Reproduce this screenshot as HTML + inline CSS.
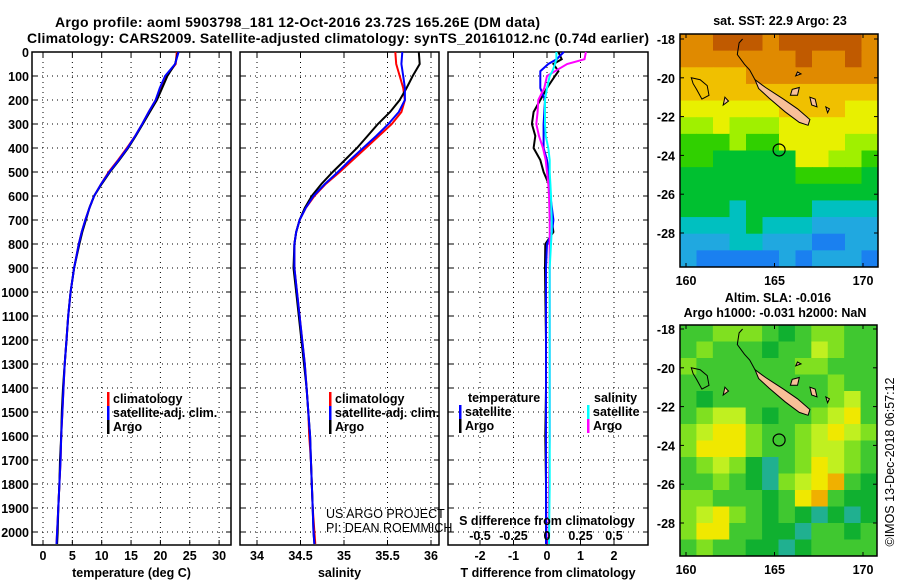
<!DOCTYPE html>
<html><head><meta charset="utf-8"><style>
html,body{margin:0;padding:0;background:#fff;}
svg{display:block;font-family:"Liberation Sans",sans-serif;}
.b{font-weight:bold;font-size:12.5px;}
</style></head><body>
<svg id="fig" width="900" height="580" viewBox="0 0 900 580" xmlns="http://www.w3.org/2000/svg">
<rect width="900" height="580" fill="#fff"/>
<text x="55" y="27" font-size="14" font-weight="bold" textLength="485">Argo profile: aoml 5903798_181 12-Oct-2016 23.72S 165.26E (DM data)</text>
<text x="27" y="43" font-size="14" font-weight="bold" textLength="622">Climatology: CARS2009. Satellite-adjusted climatology: synTS_20161012.nc (0.74d earlier)</text>
<g id="plots"></g>
</svg>
<script>
// ---------- profile data ----------
const depths=[0,50,100,150,200,250,300,350,400,450,500,550,600,650,700,750,800,900,1000,1100,1200,1300,1400,1500,1600,1700,1800,1900,2000,2050];
const tempArgo=[23.0,22.5,21.2,20.3,19.4,18.2,17.0,15.8,14.5,13.0,11.4,10.0,8.7,7.9,7.3,6.7,6.2,5.3,4.7,4.3,4.0,3.7,3.4,3.2,3.1,2.9,2.8,2.6,2.5,2.4];
const tempClim=[22.8,22.6,21.0,20.0,19.2,18.0,16.9,15.7,14.3,12.8,11.2,9.9,8.7,7.9,7.2,6.6,6.1,5.3,4.7,4.3,4.0,3.7,3.5,3.3,3.1,3.0,2.8,2.6,2.4,2.3];
const tempSat=[23.1,22.5,20.8,19.9,19.2,18.0,16.9,15.7,14.4,12.9,11.3,9.9,8.7,7.9,7.2,6.6,6.1,5.3,4.7,4.3,4.0,3.7,3.5,3.3,3.1,3.0,2.8,2.6,2.4,2.3];
const salArgo=[35.86,35.87,35.79,35.72,35.64,35.53,35.39,35.27,35.15,35.01,34.87,34.74,34.63,34.55,34.49,34.45,34.43,34.42,34.45,34.48,34.51,34.54,34.57,34.59,34.61,34.62,34.63,34.64,34.65,34.66];
const salClim=[35.59,35.60,35.64,35.68,35.70,35.66,35.55,35.40,35.25,35.10,34.95,34.79,34.66,34.56,34.49,34.45,34.43,34.43,34.46,34.49,34.52,34.55,34.57,34.59,34.60,34.62,34.63,34.64,34.66,34.67];
const salSat=[35.67,35.66,35.68,35.70,35.70,35.63,35.51,35.37,35.22,35.07,34.93,34.78,34.65,34.56,34.49,34.45,34.43,34.43,34.46,34.49,34.52,34.55,34.57,34.59,34.61,34.62,34.63,34.64,34.65,34.66];
const diffDepths=[0,30,50,80,100,150,200,250,300,350,400,450,500,550,600,700,750,800,900,1000,1200,1400,1600,1800,2050];
const dTArgo=[0.34,0.44,0.19,0.34,0.24,0,-0.2,-0.4,-0.45,-0.35,-0.4,-0.2,-0.1,0.05,0.1,0.14,0.19,-0.05,-0.06,-0.05,-0.03,-0.03,-0.05,-0.03,-0.03];
const dTSat=[0.5,0.29,0.04,-0.2,-0.2,-0.2,-0.06,-0.08,-0.1,-0.1,-0.1,0,0.05,0.09,0.1,0.19,0.15,0,-0.03,-0.03,-0.03,-0.03,-0.03,-0.03,-0.03];
const dSArgo=[0.29,0.28,0.15,0.06,0,-0.02,-0.065,-0.07,-0.08,-0.06,-0.03,-0.01,0,0.01,0.015,0.02,0.02,0.02,0.02,0.02,0.02,0.02,0.02,0.015,0.01];
const dSSat=[0.07,0.07,0.06,0.04,0.02,0,-0.015,-0.015,-0.015,-0.01,0.01,0.02,0.02,0.025,0.03,0.035,0.035,0.03,0.02,0.02,0.02,0.02,0.02,0.02,0.015];
const depthTicks=[0,100,200,300,400,500,600,700,800,900,1000,1100,1200,1300,1400,1500,1600,1700,1800,1900,2000];
const tempTicks=[0,5,10,15,20,25,30];
const salTicks=[34,34.5,35,35.5,36];
const salTickLabels=["34","34.5","35","35.5","36"];
const dTTicks=[-2,-1,0,1,2];
const dSTicks=[-0.5,-0.25,0,0.25,0.5];
const dSTickLabels=["-0.5","-0.25","0","0.25","0.5"];
// ---------- map data ----------
const sstRows=["889998999998","888888898898","777788888888","777777777777","666666777766","556555666666","444544666655","443333366554","333333344443","333333333333","333233332222","222232221111","111221110011","100000101110"];
const sstColors=["#1a80f0","#20a8e0","#00c0c0","#00c030","#30d000","#a0f000","#e8f000","#f0c000","#e08a00","#c05a00"];
const slaRows=["223332123322","232221224322","322222233222","222222222322","212222222342","234421223452","345532234543","355532234432","234310235432","223210345621","332221256211","345321210101","355221102212","232211012222"];
const slaColors=["#20b090","#10b030","#40c830","#80e020","#c0f020","#f0e800","#f0b000"];
const mapLonTicks=[160,165,170];
const mapLatTicks=[-18,-20,-22,-24,-26,-28];
const island=[[163.9,-20.1],[164.5,-20.5],[165.5,-21.1],[166.3,-21.6],[167.0,-22.15],[166.9,-22.45],[166.4,-22.3],[165.6,-21.75],[164.7,-21.05],[164.1,-20.55]];
const reef=[[163.2,-18.0],[163.0,-18.2],[162.9,-18.8],[163.3,-19.3],[163.6,-19.6],[163.9,-20.1]];
const chesterfield=[[160.3,-20.0],[160.8,-20.1],[161.2,-20.4],[161.3,-20.9],[160.9,-21.1],[160.6,-20.6],[160.4,-20.3]];
const loyalty=[[[166.0,-20.6],[166.4,-20.5],[166.3,-20.9],[165.9,-20.9]],[[167.0,-21.0],[167.3,-21.1],[167.4,-21.5],[167.1,-21.4]],[[167.9,-21.5],[168.1,-21.6],[168.0,-21.8]],[[166.3,-19.7],[166.5,-19.8],[166.2,-19.9]],[[162.2,-21.0],[162.4,-21.2],[162.1,-21.4]]];
const argoPos=[165.26,-23.72];

const NS="http://www.w3.org/2000/svg";
const root=document.getElementById('plots');
function el(tag,attrs,parent){const e=document.createElementNS(NS,tag);for(const k in attrs)e.setAttribute(k,attrs[k]);(parent||root).appendChild(e);return e;}
function txt(x,y,s,attrs,parent){const t=el('text',Object.assign({x:x,y:y},attrs||{}),parent);t.textContent=s;return t;}

const top0=52,bot=545;
function yD(d){return top0+d*0.24;}

function panel(name,x0,x1,xScale,xTicks,xLabels,xTitle,showY){
  const g=el('g',{});
  
  
  xTicks.forEach(v=>{const x=xScale(v);el('line',{x1:x,x2:x,y1:top0,y2:bot,stroke:'#000','stroke-width':1,'stroke-dasharray':'1,4'},g);
    el('line',{x1:x,x2:x,y1:bot,y2:bot-5,stroke:'#000'},g);el('line',{x1:x,x2:x,y1:top0,y2:top0+5,stroke:'#000'},g);});
  depthTicks.forEach(d=>{const y=yD(d);el('line',{x1:x0,x2:x1,y1:y,y2:y,stroke:'#000','stroke-width':1,'stroke-dasharray':'1,4'},g);
    el('line',{x1:x0,x2:x0+5,y1:y,y2:y,stroke:'#000'},g);el('line',{x1:x1,x2:x1-5,y1:y,y2:y,stroke:'#000'},g);
    if(showY){const t=txt(29,y+5,String(d),{'text-anchor':'end','class':'b'},g);}});
  xTicks.forEach((v,i)=>{const t=txt(xScale(v),560,xLabels[i],{'text-anchor':'middle','class':'b'},g);});
  const tt=txt((x0+x1)/2,577,xTitle,{'text-anchor':'middle','class':'b'},g);
  
  el('rect',{x:x0,y:top0,width:x1-x0,height:bot-top0,fill:'none',stroke:'#000','stroke-width':1.5},g);
  return g;
}
function line(g,xs,ds,xScale,color,name){
  const pts=xs.map((v,i)=>xScale(v).toFixed(1)+','+yD(ds[i]).toFixed(1)).join(' ');
  const p=el('polyline',{points:pts,fill:'none',stroke:color,'stroke-width':2},g);
  
}
function legendMark(g,x,y,color,label,name){
  el('rect',{x:x,y:y-11,width:2.5,height:14,fill:color},g);
  const t=txt(x+6,y,label,{'class':'b'},g);
  
}

// temperature panel
const xT=v=>43+v*5.87;
const gT=panel('temperature-panel',32,231,xT,tempTicks,tempTicks.map(String),'temperature (deg C)',true);
line(gT,tempClim,depths,xT,'#f00','temp-climatology-line');
line(gT,tempArgo,depths,xT,'#000','temp-argo-line');
line(gT,tempSat,depths,xT,'#00f','temp-satellite-line');
legendMark(gT,107,403,'#f00','climatology','legend-climatology');
legendMark(gT,107,417,'#00f','satellite-adj. clim.','legend-satellite');
legendMark(gT,107,431,'#000','Argo','legend-argo');

// salinity panel
const xS=v=>257+(v-34)*87;
const gS=panel('salinity-panel',240,439,xS,salTicks,salTickLabels,'salinity',false);
line(gS,salClim,depths,xS,'#f00','sal-climatology-line');
line(gS,salArgo,depths,xS,'#000','sal-argo-line');
line(gS,salSat,depths,xS,'#00f','sal-satellite-line');
legendMark(gS,329,403,'#f00','climatology','legend-climatology-sal');
legendMark(gS,329,417,'#00f','satellite-adj. clim.','legend-satellite-sal');
legendMark(gS,329,431,'#000','Argo','legend-argo-sal');
const c1=txt(326,518,'US ARGO PROJECT',{'font-size':12.5},gS);
const c2=txt(326,532,'PI: DEAN ROEMMICH',{'font-size':12.5},gS);

// difference panel
const xDT=v=>547+v*33.5;
const xDS=v=>547+v*134;
const gD=panel('difference-panel',448,648,xDT,dTTicks,dTTicks.map(String),'T difference from climatology',false);
line(gD,dTArgo,diffDepths,xDT,'#000','dT-argo-line');
line(gD,dTSat,diffDepths,xDT,'#00f','dT-satellite-line');
line(gD,dSArgo,diffDepths,xDS,'#f0f','dS-argo-line');
line(gD,dSSat,diffDepths,xDS,'#0ff','dS-satellite-line');
const st=txt(547,525,'S difference from climatology',{'text-anchor':'middle','class':'b'},gD);
dSTicks.forEach((v,i)=>{const t=txt(xDS(v),540,dSTickLabels[i],{'text-anchor':'middle','class':'b'},gD);});
const lt=txt(468,402,'temperature',{'class':'b'},gD);
legendMark(gD,459,416,'#00f','satellite','legend-dT-satellite');
legendMark(gD,459,430,'#000','Argo','legend-dT-argo');
const ls=txt(594,402,'salinity',{'class':'b'},gD);
legendMark(gD,587,416,'#0ff','satellite','legend-dS-satellite');
legendMark(gD,587,430,'#f0f','Argo','legend-dS-argo');

// maps
function map(name,mx0,my0,mx1,my1,latY18,latY28,rows,colors,title){
  const g=el('g',{});
  
  const lonX=lon=>686+(lon-160)*17.7;
  const latY=lat=>latY18+(-18-lat)*(latY28-latY18)/10;
  const nr=rows.length,nc=rows[0].length,cw=(mx1-mx0)/nc,ch=(my1-my0)/nr;
  rows.forEach((r,i)=>{for(let j=0;j<nc;j++){
    const c=el('rect',{x:(mx0+j*cw).toFixed(2),y:(my0+i*ch).toFixed(2),width:(cw+0.5).toFixed(2),height:(ch+0.5).toFixed(2),fill:colors[+r[j]]},g);
    }});
  const P=a=>a.map(p=>lonX(p[0]).toFixed(1)+','+latY(p[1]).toFixed(1)).join(' ');
  const isl=el('polygon',{points:P(island),fill:'#f8c098',stroke:'#000','stroke-width':1},g);
  
  el('polyline',{points:P(reef),fill:'none',stroke:'#000','stroke-width':1},g);
  el('polygon',{points:P(chesterfield),fill:'none',stroke:'#000','stroke-width':1},g);
  loyalty.forEach(s=>el('polygon',{points:P(s),fill:'#f8c098',stroke:'#000','stroke-width':1},g));
  const ac=el('circle',{cx:lonX(argoPos[0]),cy:latY(argoPos[1]),r:6,fill:'none',stroke:'#000','stroke-width':1.2},g);
  
  el('rect',{x:mx0,y:my0,width:mx1-mx0,height:my1-my0,fill:'none',stroke:'#000','stroke-width':1.5},g);
  mapLonTicks.forEach(v=>{const x=lonX(v);el('line',{x1:x,x2:x,y1:my1,y2:my1-4,stroke:'#000'},g);el('line',{x1:x,x2:x,y1:my0,y2:my0+4,stroke:'#000'},g);
    const t=txt(x,my1+18,String(v),{'text-anchor':'middle','class':'b'},g);});
  mapLatTicks.forEach(v=>{const y=latY(v);el('line',{x1:mx0,x2:mx0+4,y1:y,y2:y,stroke:'#000'},g);el('line',{x1:mx1,x2:mx1-4,y1:y,y2:y,stroke:'#000'},g);
    const t=txt(mx0-5,y+5,String(v),{'text-anchor':'end','class':'b'},g);});
  title.forEach(tt=>{const t=txt(tt[0],tt[1],tt[2],{'text-anchor':'middle','class':'b'},g);});
}
map('sst-map',680,34,878,267,39,233,sstRows,sstColors,[[780,25,'sat. SST: 22.9 Argo: 23']]);
map('sla-map',680,325,877,556,329,523,slaRows,slaColors,[[778,302,'Altim. SLA: -0.016'],[775,317,'Argo h1000: -0.031 h2000: NaN']]);
const cp=txt(0,0,'©IMOS 13-Dec-2018 06:57:12',{'font-size':12.5,'text-anchor':'middle',transform:'translate(894,462) rotate(-90)'});

</script>
</body></html>
